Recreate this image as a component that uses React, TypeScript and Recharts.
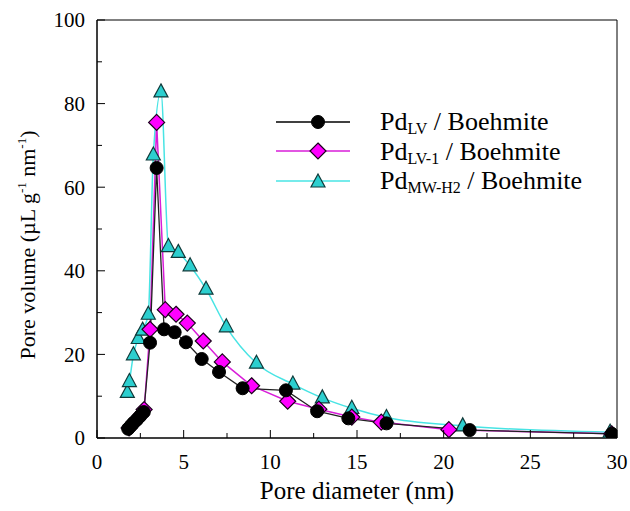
import React from "react";
import { LineChart, Line, XAxis, YAxis, ReferenceArea } from "recharts";

// Pd_LV / Boehmite
const lvDiameter = [1.8, 1.95, 2.1, 2.3, 2.5, 2.7, 3.06, 3.44, 3.87, 4.48, 5.13, 6.04, 7.04, 8.4, 10.9, 12.7, 14.5, 16.7, 21.5, 29.7];
const lvVolume = [2.2, 2.9, 3.6, 4.4, 5.3, 6.2, 22.8, 64.6, 26.0, 25.3, 22.9, 18.9, 15.8, 11.9, 11.4, 6.4, 4.7, 3.5, 1.9, 1.0];

// Pd_LV-1 / Boehmite
const lv1Diameter = [1.85, 2.0, 2.15, 2.35, 2.55, 2.72, 3.06, 3.44, 3.94, 4.56, 5.21, 6.13, 7.23, 8.92, 11.0, 12.8, 14.7, 16.4, 20.3, 29.7];
const lv1Volume = [2.4, 3.1, 3.8, 4.6, 5.6, 6.8, 26.0, 75.5, 30.7, 29.6, 27.5, 23.2, 18.2, 12.5, 8.8, 6.9, 5.0, 3.8, 2.0, 1.0];

// Pd_MW-H2 / Boehmite
const mwDiameter = [1.75, 1.87, 2.1, 2.38, 2.63, 2.96, 3.25, 3.69, 4.12, 4.69, 5.37, 6.29, 7.46, 9.2, 11.3, 13.0, 14.7, 16.7, 21.1, 29.6];
const mwVolume = [10.9, 13.5, 19.9, 23.8, 25.8, 29.6, 67.7, 82.8, 45.8, 44.4, 41.2, 35.6, 26.6, 17.9, 12.9, 9.6, 7.1, 4.9, 2.9, 1.4];

const xTicks = [0, 2.5, 5, 7.5, 10, 12.5, 15, 17.5, 20, 22.5, 25, 27.5, 30];
const yTicks = [0, 10, 20, 30, 40, 50, 60, 70, 80, 90, 100];

const lvData = lvDiameter.map((d, i) => ({ d, v: lvVolume[i] }));
const lv1Data = lv1Diameter.map((d, i) => ({ d, v: lv1Volume[i] }));
const mwData = mwDiameter.map((d, i) => ({ d, v: mwVolume[i] }));

const FONT = "'Liberation Serif', 'Times New Roman', serif";
const MAGENTA_LINE = "#d81ed8";
const MAGENTA = "#ff00ff";
const CYAN_LINE = "#48e4e4";
const CYAN = "#2ccfcf";

const isMajorX = (v: number) => v % 5 === 0;
const isMajorY = (v: number) => v % 20 === 0;

const BottomTick = (p: any) => {
  const v = p.payload.value;
  const len = isMajorX(v) ? 8 : 5;
  return (
    <g>
      <line x1={p.x} x2={p.x} y1={p.y} y2={p.y - len} stroke="#000" />
      {isMajorX(v) && (
        <text x={p.x} y={p.y + 31} textAnchor="middle" fontSize={21} fontFamily={FONT} fill="#000">
          {v}
        </text>
      )}
    </g>
  );
};

const TopTick = (p: any) => {
  const len = isMajorX(p.payload.value) ? 8 : 5;
  return <line x1={p.x} x2={p.x} y1={p.y} y2={p.y + len} stroke="#000" />;
};

const LeftTick = (p: any) => {
  const v = p.payload.value;
  const len = isMajorY(v) ? 8 : 5;
  return (
    <g>
      <line x1={p.x} x2={p.x + len} y1={p.y} y2={p.y} stroke="#000" />
      {isMajorY(v) && (
        <text x={p.x - 12} y={p.y} dy="0.35em" textAnchor="end" fontSize={21} fontFamily={FONT} fill="#000">
          {v}
        </text>
      )}
    </g>
  );
};

const RightTick = (p: any) => {
  const len = isMajorY(p.payload.value) ? 8 : 5;
  return <line x1={p.x} x2={p.x - len} y1={p.y} y2={p.y} stroke="#000" />;
};

const CircleDot = (p: any) => (
  <circle key={p.key} cx={p.cx} cy={p.cy} r={6.5} fill="#000" stroke="#000" />
);

const DiamondDot = (p: any) => {
  const s = 8;
  return (
    <polygon
      key={p.key}
      points={`${p.cx},${p.cy - s} ${p.cx + s},${p.cy} ${p.cx},${p.cy + s} ${p.cx - s},${p.cy}`}
      fill={MAGENTA}
      stroke="#1a001a"
      strokeWidth={1.2}
    />
  );
};

const TriangleDot = (p: any) => (
  <polygon
    key={p.key}
    points={`${p.cx},${p.cy - 8} ${p.cx + 7},${p.cy + 5} ${p.cx - 7},${p.cy + 5}`}
    fill={CYAN}
    stroke="#0f3a3a"
    strokeWidth={1.2}
  />
);

const XTitle = (p: any) => {
  const vb = p.viewBox;
  return (
    <text x={vb.x + vb.width / 2} y={vb.y + 61} textAnchor="middle" fontSize={25} fontFamily={FONT} fill="#000">
      Pore diameter (nm)
    </text>
  );
};

const YTitle = (p: any) => {
  const vb = p.viewBox;
  return (
    <text
      transform={`translate(${vb.x + 35} ${vb.y + vb.height / 2 + 16}) rotate(-90)`}
      textAnchor="middle"
      fontSize={22}
      fontFamily={FONT}
      fill="#000"
    >
      Pore volume (µL g<tspan dy={-9} fontSize={13}>-1</tspan>
      <tspan dy={9}> nm</tspan>
      <tspan dy={-9} fontSize={13}>-1</tspan>
      <tspan dy={9}>)</tspan>
    </text>
  );
};

const legendRows = [
  { name: "LV", line: "#000", marker: "circle" },
  { name: "LV-1", line: MAGENTA_LINE, marker: "diamond" },
  { name: "MW-H2", line: CYAN_LINE, marker: "triangle" },
];

const LegendBox = () => (
  <div style={{ position: "absolute", left: 276, top: 107, fontFamily: FONT, fontSize: 26, lineHeight: "29px" }}>
    {legendRows.map((r) => (
      <div key={r.name} style={{ display: "flex", alignItems: "center", height: 29.5 }}>
        <svg width={104} height={20}>
          <line x1={0} x2={74} y1={10} y2={10} stroke={r.line} strokeWidth={1.5} />
          {r.marker === "circle" && <CircleDot cx={42} cy={10} />}
          {r.marker === "diamond" && <DiamondDot cx={42} cy={10} />}
          {r.marker === "triangle" && <TriangleDot cx={42} cy={11} />}
        </svg>
        <span>
          Pd<sub style={{ fontSize: 16, verticalAlign: -4, lineHeight: 0 }}>{r.name}</sub> / Boehmite
        </span>
      </div>
    ))}
  </div>
);

export default function App() {
  return (
    <div style={{ position: "absolute", left: 0, top: 0, width: 630, height: 511, background: "#fff", overflow: "hidden" }}>
      <LineChart width={630} height={511} margin={{ top: 20, right: 13, bottom: 0, left: 0 }}>
        <XAxis
          xAxisId="b"
          dataKey="d"
          type="number"
          domain={[0, 30]}
          ticks={xTicks}
          height={73}
          tickSize={0}
          tickMargin={0}
          tickLine={false}
          tick={<BottomTick />}
          axisLine={{ stroke: "#000" }}
          allowDataOverflow
          label={<XTitle />}
        />
        <XAxis
          xAxisId="t"
          orientation="top"
          dataKey="d"
          type="number"
          domain={[0, 30]}
          ticks={xTicks}
          height={0}
          tickSize={0}
          tickMargin={0}
          tickLine={false}
          tick={<TopTick />}
          axisLine={{ stroke: "#000" }}
          allowDataOverflow
        />
        <YAxis
          yAxisId="l"
          type="number"
          domain={[0, 100]}
          ticks={yTicks}
          width={97}
          tickSize={0}
          tickMargin={0}
          tickLine={false}
          tick={<LeftTick />}
          axisLine={{ stroke: "#000" }}
          allowDataOverflow
          label={<YTitle />}
        />
        <YAxis
          yAxisId="r"
          orientation="right"
          type="number"
          domain={[0, 100]}
          ticks={yTicks}
          width={0}
          tickSize={0}
          tickMargin={0}
          tickLine={false}
          tick={<RightTick />}
          axisLine={{ stroke: "#000" }}
          allowDataOverflow
        />
        <ReferenceArea xAxisId="b" yAxisId="l" x1={0} x2={30} y1={0} y2={100} fill="none" stroke="#000" />
        <Line
          xAxisId="b"
          yAxisId="l"
          data={mwData}
          dataKey="v"
          type="monotone"
          stroke={CYAN_LINE}
          strokeWidth={1.5}
          dot={TriangleDot}
          isAnimationActive={false}
        />
        <Line
          xAxisId="b"
          yAxisId="l"
          data={lv1Data}
          dataKey="v"
          type="linear"
          stroke={MAGENTA_LINE}
          strokeWidth={1.5}
          dot={DiamondDot}
          isAnimationActive={false}
        />
        <Line
          xAxisId="b"
          yAxisId="l"
          data={lvData}
          dataKey="v"
          type="linear"
          stroke="#222"
          strokeWidth={1.3}
          dot={CircleDot}
          isAnimationActive={false}
        />
      </LineChart>
      <LegendBox />
    </div>
  );
}
